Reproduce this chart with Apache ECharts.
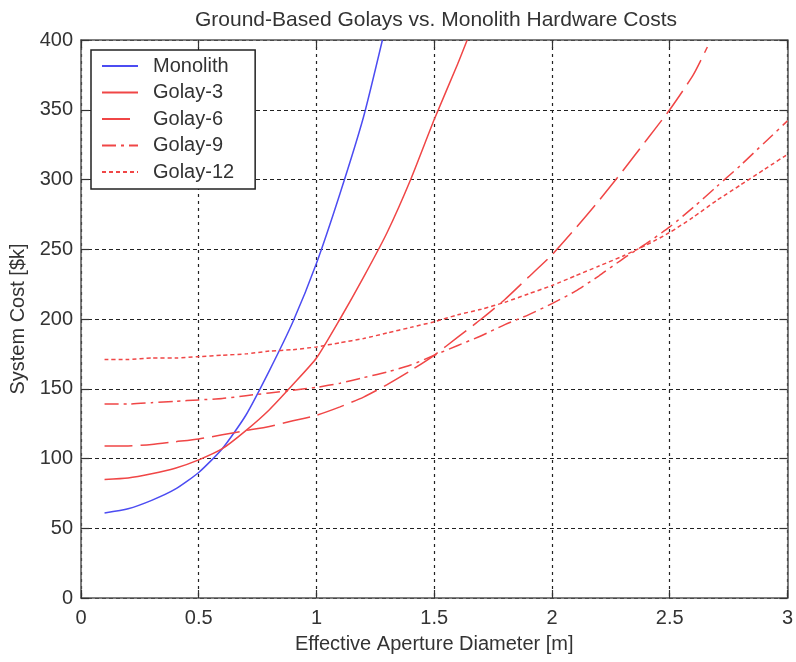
<!DOCTYPE html>
<html>
<head>
<meta charset="utf-8">
<script src="https://cdn.jsdelivr.net/npm/echarts@6/dist/echarts.min.js"></script>
<style>
html,body{margin:0;padding:0;background:#fff;}
#chart{width:796px;height:662px;}
</style>
</head>
<body>
<div id="chart"></div>
<script>
var titleText = 'Ground-Based Golays vs. Monolith Hardware Costs';
var xAxisName = 'Effective Aperture Diameter [m]';
var yAxisName = 'System Cost [$k]';
var seriesNames = ['Monolith', 'Golay-3', 'Golay-6', 'Golay-9', 'Golay-12'];

var monolithX = [0.1,0.2,0.3,0.4,0.5,0.6,0.7,0.8,0.9,1.0,1.1,1.2,1.28];
var monolithY = [61,64,70,78,90,107,131,163,198,240,290,345,400];

var golay3X = [0.1,0.2,0.3,0.4,0.5,0.6,0.7,0.8,0.9,1.0,1.1,1.2,1.3,1.4,1.5,1.6,1.64];
var golay3Y = [85,86,89,93,99,107,120,135,153,172,200,230,262,300,343,383,400];

var golay6X = [0.1,0.2,0.3,0.4,0.5,0.6,0.7,0.8,0.9,1.0,1.1,1.2,1.3,1.4,1.5,1.6,1.7,1.8,1.9,2.0,2.1,2.2,2.3,2.4,2.5,2.6,2.66];
var golay6Y = [109,109,110,112,114,117,120,123,127,131,137,144,153,163,174,187,200,214,230,246,265,285,306,328,350,375,395];

var golay9X = [0.1,0.2,0.3,0.4,0.5,0.6,0.7,0.8,0.9,1.0,1.1,1.2,1.3,1.4,1.5,1.6,1.7,1.8,1.9,2.0,2.1,2.2,2.3,2.4,2.5,2.6,2.7,2.8,2.9,3.0];
var golay9Y = [139,139,140,141,142,143,145,147,149,151,154,158,162,167,174,181,188,196,203,211,220,231,243,254,266,280,295,310,326,342];

var golay12X = [0.1,0.2,0.3,0.4,0.5,0.6,0.7,0.8,0.9,1.0,1.1,1.2,1.3,1.4,1.5,1.6,1.7,1.8,1.9,2.0,2.1,2.2,2.3,2.4,2.5,2.6,2.7,2.8,2.9,3.0];
var golay12Y = [171,171,172,172,173,174,175,177,178,180,183,186,190,194,198,203,207,212,218,224,231,238,245,253,262,273,285,296,307,318];

function pairs(xs, ys) {
  var out = [];
  for (var i = 0; i < xs.length; i++) out.push([xs[i], ys[i]]);
  return out;
}

var BLUE = '#4c4cf2';
var RED = '#f04646';
var FONT = 'Liberation Sans, Arial, sans-serif';

function lineSeries(name, xs, ys, color, type) {
  return {
    name: name,
    type: 'line',
    data: pairs(xs, ys),
    showSymbol: false,
    symbol: 'none',
    smooth: 0.2,
    clip: true,
    lineStyle: { color: color, width: 1.5, type: type },
    itemStyle: { color: color },
    emphasis: { disabled: true },
    z: 5
  };
}

var chart = echarts.init(document.getElementById('chart'), null, { renderer: 'canvas' });
chart.setOption({
  backgroundColor: '#fff',
  animation: false,
  textStyle: { fontFamily: FONT },
  title: {
    text: titleText,
    left: 431,
    textAlign: 'center',
    top: 5,
    textStyle: { fontFamily: FONT, fontSize: 21, fontWeight: 'normal', color: '#333' }
  },
  grid: { left: 81, right: 7, top: 40, bottom: 64, containLabel: false },
  legend: {
    orient: 'vertical',
    left: 91,
    top: 50,
    padding: [6, 21, 7, 10],
    itemWidth: 36,
    itemHeight: 14,
    itemGap: 6.5,
    borderColor: '#222',
    borderWidth: 1.5,
    backgroundColor: '#fff',
    data: seriesNames,
    itemStyle: { color: 'rgba(0,0,0,0)', borderWidth: 0, opacity: 0 },
    textStyle: { fontFamily: FONT, fontSize: 20, color: '#333', lineHeight: 20, padding: [0, 0, 0, 10] },
    z: 10
  },
  xAxis: [{
    type: 'value',
    min: 0, max: 3, interval: 0.5,
    name: xAxisName,
    nameLocation: 'middle',
    nameGap: 36,
    nameTextStyle: { fontFamily: FONT, fontSize: 20, color: '#333' },
    axisLine: { show: true, onZero: false, lineStyle: { color: '#555', width: 1.5 } },
    axisTick: { show: true, inside: true, length: 8, lineStyle: { color: '#333', width: 1.2 } },
    axisLabel: { fontFamily: FONT, fontSize: 20, color: '#333', margin: 10 },
    splitLine: { show: true, lineStyle: { color: '#222', width: 1.2, type: [3, 4] } }
  }, {
    type: 'value',
    position: 'top',
    min: 0, max: 3, interval: 0.5,
    axisLine: { show: true, onZero: false, lineStyle: { color: '#555', width: 1.5 } },
    axisTick: { show: true, inside: true, length: 8, lineStyle: { color: '#333', width: 1.2 } },
    axisLabel: { show: false },
    splitLine: { show: false }
  }],
  yAxis: [{
    type: 'value',
    min: 0, max: 400, interval: 50,
    name: yAxisName,
    nameLocation: 'middle',
    nameGap: 48,
    nameTextStyle: { fontFamily: FONT, fontSize: 20, color: '#333' },
    axisLine: { show: true, onZero: false, lineStyle: { color: '#555', width: 1.5 } },
    axisTick: { show: true, inside: true, length: 8, lineStyle: { color: '#333', width: 1.2 } },
    axisLabel: { fontFamily: FONT, fontSize: 20, color: '#333', margin: 8 },
    splitLine: { show: true, lineStyle: { color: '#222', width: 1.2, type: [4, 3] } }
  }, {
    type: 'value',
    position: 'right',
    min: 0, max: 400, interval: 50,
    axisLine: { show: true, onZero: false, lineStyle: { color: '#555', width: 1.5 } },
    axisTick: { show: true, inside: true, length: 8, lineStyle: { color: '#333', width: 1.2 } },
    axisLabel: { show: false },
    splitLine: { show: false }
  }],
  series: [
    lineSeries(seriesNames[0], monolithX, monolithY, BLUE, 'solid'),
    lineSeries(seriesNames[1], golay3X, golay3Y, RED, 'solid'),
    lineSeries(seriesNames[2], golay6X, golay6Y, RED, [28, 8]),
    lineSeries(seriesNames[3], golay9X, golay9Y, RED, [14, 5, 3, 5]),
    lineSeries(seriesNames[4], golay12X, golay12Y, RED, [4, 3])
  ]
});
</script>
</body>
</html>
